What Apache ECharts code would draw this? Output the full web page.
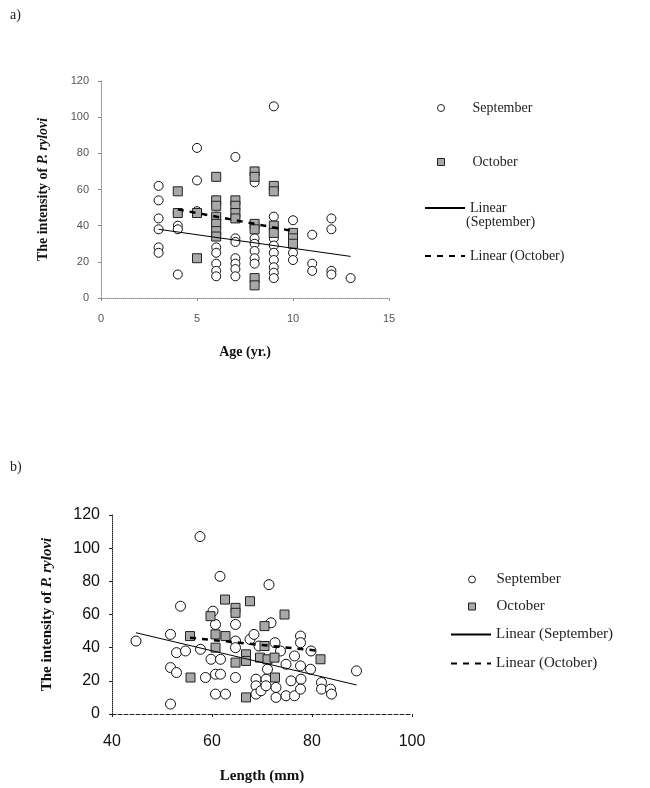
<!DOCTYPE html>
<html>
<head>
<meta charset="utf-8">
<script src="https://cdn.jsdelivr.net/npm/echarts@6/dist/echarts.min.js"></script>
<style>
  html, body { margin: 0; padding: 0; background: #fff; }
  #chart { width: 650px; height: 788px; }
</style>
</head>
<body>
<div id="chart"></div>
<script>
    // panel a: age (yr.) vs intensity
    var ageSep = [
        [3,62],[3,54],[3,44],[3,38],[3,28],[3,25],
        [4,47],[4,40],[4,38],[4,13],
        [5,83],[5,65],[5,48],
        [6,45],[6,41],[6,28],[6,25],[6,19],[6,15],[6,12],
        [7,78],[7,33],[7,31],[7,22],[7,19],[7,16],[7,12],
        [8,64],[8,33],[8,30],[8,26],[8,22],[8,19],
        [9,106],[9,45],[9,33],[9,29],[9,25],[9,21],[9,17],[9,14],[9,11],
        [10,43],[10,25],[10,21],
        [11,35],[11,19],[11,15],
        [12,44],[12,38],[12,15],[12,13],
        [13,11]
    ];
    var ageOct = [
        [4,59],[4,47],
        [5,47],[5,22],
        [6,67],[6,54],[6,51],[6,45],[6,41],[6,37],[6,34],
        [7,54],[7,51],[7,47],[7,44],
        [8,70],[8,67],[8,41],[8,38],[8,11],[8,7],
        [9,62],[9,59],[9,40],[9,36],
        [10,36],[10,33],[10,30]
    ];
    var ageSepTrend = [[3,38],[13,23]];
    var ageOctTrend = [[4,49],[10,37]];

    // panel b: length (mm) vs intensity
    var lenSep = [
        [44.8,44],[51.7,48],[51.7,28],[51.7,6],[52.9,37],[52.9,25],[53.7,65],[54.7,38],
        [57.6,107],[57.7,39],[58.7,22],[59.8,33],[60.7,54],[60.7,24],[60.7,12],[60.2,62],
        [61.6,83],[61.7,33],[61.7,24],[62.7,12],[64.7,54],[64.7,44],[64.7,40],[64.7,22],
        [67.6,45],[68.4,48],[68.8,21],[68.8,17],[68.8,12],[69.4,41],[69.8,14],[70.8,21],
        [70.8,17],[71.1,27],[71.4,78],[71.8,55],[72.6,43],[72.8,16],[72.8,10],[73.7,38],
        [74.8,30],[74.8,11],[75.8,20],[76.5,35],[76.5,11],[77.7,47],[77.7,43],[77.7,29],
        [77.8,21],[77.7,15],[79.7,27],[79.8,38],[81.9,19],[81.9,15],[83.7,15],[83.9,12],
        [88.9,26]
    ];
    var lenOct = [
        [55.6,47],[55.7,22],[59.7,59],[60.7,48],[60.7,40],[62.6,69],[62.7,47],[64.7,64],
        [64.7,61],[64.7,31],[66.8,36],[66.8,32],[66.8,10],[67.6,68],[69.6,34],[70.5,53],
        [70.5,41],[71.1,33],[72.5,34],[72.6,22],[74.5,60],[81.7,33]
    ];
    var lenSepTrend = [[44.8,49],[88.9,17.5]];
    var lenOctTrend = [[55.6,46],[81.7,38]];

    var serif = 'Liberation Serif';
    var sans = 'Liberation Sans';

    // legend entry with a marker icon (scatter)
    function legendMark(name, icon, left, top, size, pad) {
        return {
            data: [{ name: name, icon: icon }],
            left: left,
            top: top,
            itemWidth: 7,
            itemHeight: 7,
            selectedMode: false,
            itemStyle: { borderWidth: 1, borderColor: '#222' },
            textStyle: { fontFamily: serif, fontSize: size, color: '#222', padding: [0, 0, 0, pad] }
        };
    }

    // legend entry with a line icon (trend lines)
    function legendLine(name, left, top, w, size, fmt) {
        return {
            data: [name],
            left: left,
            top: top,
            itemWidth: w,
            itemHeight: 7,
            selectedMode: false,
            formatter: fmt || null,
            itemStyle: { opacity: 0 },
            textStyle: { fontFamily: serif, fontSize: size, color: '#222' }
        };
    }

    function yName(size) {
        return {
            rich: {
                n: { fontFamily: serif, fontWeight: 'bold', fontSize: size, color: '#111' },
                i: { fontFamily: serif, fontWeight: 'bold', fontStyle: 'italic', fontSize: size, color: '#111' }
            }
        };
    }

    var chart = echarts.init(document.getElementById('chart'));
    var option = {
        animation: false,
        backgroundColor: '#fff',
        graphic: [
            { type: 'text', left: 10, top: 8, style: { text: 'a)', font: '14px ' + serif, fill: '#222' } },
            { type: 'text', left: 10, top: 460, style: { text: 'b)', font: '14px ' + serif, fill: '#222' } },
            { type: 'text', left: 466, top: 215, style: { text: '(September)', font: '14px ' + serif, fill: '#222' } }
        ],
        legend: [
            legendMark('September', 'circle', 432, 96, 14, 23),
            legendMark('October', 'rect', 432, 150, 14, 23),
            legendLine('Linear (September)', 419, 196, 40, 14, 'Linear'),
            legendLine('Linear (October)', 419, 244, 40, 14),
            legendMark('September', 'circle', 463, 567, 15, 16),
            legendMark('October', 'rect', 463, 594, 15, 16),
            legendLine('Linear (September)', 445, 622, 40, 15),
            legendLine('Linear (October)', 445, 651, 40, 15)
        ],
        grid: [
            { left: 101, top: 81, width: 288, height: 217 },
            { left: 112, top: 515, width: 300, height: 199 }
        ],
        xAxis: [
            {
                gridIndex: 0, type: 'value', min: 0, max: 15, interval: 5,
                name: 'Age (yr.)', nameLocation: 'middle', nameGap: 47,
                nameTextStyle: { fontFamily: serif, fontWeight: 'bold', fontSize: 14, color: '#111' },
                axisLine: { lineStyle: { color: '#888', type: 'dotted' } },
                axisTick: { show: true, length: 3, lineStyle: { color: '#888' } },
                axisLabel: { fontFamily: sans, fontSize: 11, color: '#555', margin: 15 },
                splitLine: { show: false }
            },
            {
                gridIndex: 1, type: 'value', min: 40, max: 100, interval: 20,
                name: 'Length (mm)', nameLocation: 'middle', nameGap: 55,
                nameTextStyle: { fontFamily: serif, fontWeight: 'bold', fontSize: 15, color: '#111' },
                axisLine: { lineStyle: { color: '#222', type: 'dashed' } },
                axisTick: { show: true, length: 3, lineStyle: { color: '#222' } },
                axisLabel: { fontFamily: sans, fontSize: 16, color: '#111', margin: 20 },
                splitLine: { show: false }
            }
        ],
        yAxis: [
            {
                gridIndex: 0, type: 'value', min: 0, max: 120, interval: 20,
                name: '{n|The intensity of }{i|P. rylovi}', nameLocation: 'middle', nameGap: 51,
                nameRotate: 90,
                nameTextStyle: yName(14),
                axisLine: { show: true, lineStyle: { color: '#888', type: 'dotted' } },
                axisTick: { show: true, length: 3, lineStyle: { color: '#888' } },
                axisLabel: { fontFamily: sans, fontSize: 11, color: '#555', margin: 12 },
                splitLine: { show: false }
            },
            {
                gridIndex: 1, type: 'value', min: 0, max: 120, interval: 20,
                name: '{n|The intensity of }{i|P. rylovi}', nameLocation: 'middle', nameGap: 57,
                nameRotate: 90,
                nameTextStyle: yName(15),
                axisLine: { show: true, lineStyle: { color: '#222', type: 'dotted' } },
                axisTick: { show: true, length: 3, lineStyle: { color: '#222' } },
                axisLabel: { fontFamily: sans, fontSize: 16, color: '#111', margin: 12 },
                splitLine: { show: false }
            }
        ],
        series: [
            {
                name: 'September', type: 'scatter', xAxisIndex: 0, yAxisIndex: 0,
                data: ageSep, symbol: 'circle', symbolSize: 9,
                itemStyle: { color: '#fff', borderColor: '#111', borderWidth: 1, opacity: 1 }
            },
            {
                name: 'October', type: 'scatter', xAxisIndex: 0, yAxisIndex: 0,
                data: ageOct, symbol: 'rect', symbolSize: 9,
                itemStyle: { color: '#a8a8a8', borderColor: '#222', borderWidth: 1, opacity: 1 }
            },
            {
                name: 'Linear (September)', type: 'line', xAxisIndex: 0, yAxisIndex: 0,
                data: ageSepTrend, symbol: 'none',
                itemStyle: { color: '#000' },
                lineStyle: { color: '#000', width: 1 }
            },
            {
                name: 'Linear (October)', type: 'line', xAxisIndex: 0, yAxisIndex: 0,
                data: ageOctTrend, symbol: 'none',
                itemStyle: { color: '#000' },
                lineStyle: { color: '#000', width: 2.5, type: [6, 6] }
            },
            {
                name: 'September', type: 'scatter', xAxisIndex: 1, yAxisIndex: 1,
                data: lenSep, symbol: 'circle', symbolSize: 10,
                itemStyle: { color: '#fff', borderColor: '#111', borderWidth: 1, opacity: 1 }
            },
            {
                name: 'October', type: 'scatter', xAxisIndex: 1, yAxisIndex: 1,
                data: lenOct, symbol: 'rect', symbolSize: 9,
                itemStyle: { color: '#a8a8a8', borderColor: '#222', borderWidth: 1, opacity: 1 }
            },
            {
                name: 'Linear (September)', type: 'line', xAxisIndex: 1, yAxisIndex: 1,
                data: lenSepTrend, symbol: 'none',
                itemStyle: { color: '#000' },
                lineStyle: { color: '#000', width: 1 }
            },
            {
                name: 'Linear (October)', type: 'line', xAxisIndex: 1, yAxisIndex: 1,
                data: lenOctTrend, symbol: 'none',
                itemStyle: { color: '#000' },
                lineStyle: { color: '#000', width: 2.5, type: [6, 6] }
            }
        ]
    };
    chart.setOption(option);
</script>
</body>
</html>
